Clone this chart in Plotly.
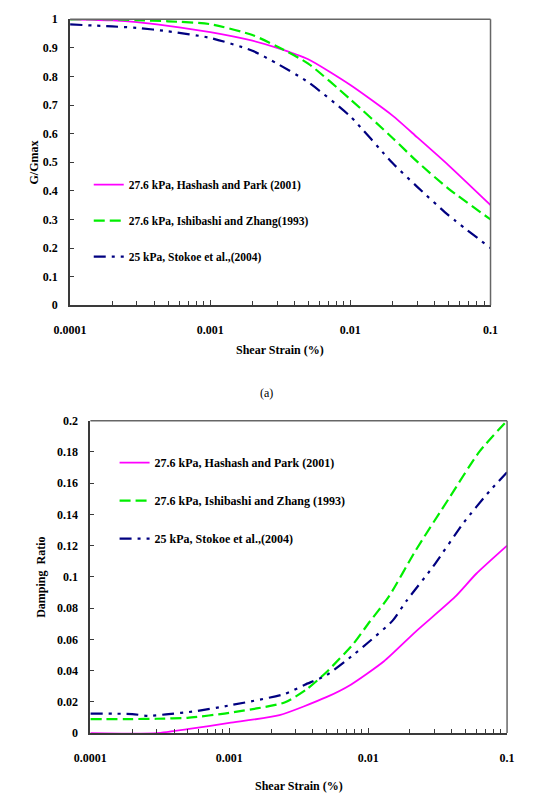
import plotly.graph_objects as go

# ---------------- data ----------------
# (a) G/Gmax vs shear strain (%)
g_strain = [1e-4, 2e-4, 3e-4, 5e-4, 1e-3, 2e-3, 3e-3, 5e-3, 1e-2, 2e-2, 3e-2, 5e-2, 1e-1]
g_hashash = [1.0, 0.996, 0.99, 0.977, 0.955, 0.925, 0.90, 0.86, 0.77, 0.663, 0.587, 0.49, 0.35]
g_ishibashi = [1.0, 1.0, 0.997, 0.993, 0.983, 0.945, 0.905, 0.845, 0.72, 0.585, 0.502, 0.408, 0.30]
g_stokoe = [0.982, 0.975, 0.97, 0.958, 0.935, 0.89, 0.845, 0.78, 0.66, 0.497, 0.414, 0.315, 0.20]

# (b) Damping ratio vs shear strain (%)
d_strain_h = [1e-4, 2e-4, 3e-4, 5e-4, 1e-3, 2.3e-3, 5e-3, 7.5e-3, 1.3e-2, 2.2e-2, 4.2e-2, 6e-2, 1e-1]
d_hashash = [0.0, -0.0003, 0.0, 0.0025, 0.0065, 0.0115, 0.023, 0.031, 0.046, 0.065, 0.087, 0.102, 0.12]
d_strain_i = [1e-4, 2e-4, 3e-4, 5e-4, 1e-3, 2.5e-3, 3.6e-3, 5e-3, 7.8e-3, 1e-2, 1.4e-2, 2.2e-2, 3.8e-2, 6.3e-2, 1e-1]
d_ishibashi = [0.009, 0.009, 0.0092, 0.0098, 0.013, 0.0196, 0.028, 0.039, 0.057, 0.070, 0.087, 0.117, 0.15, 0.18, 0.20]
d_strain_s = [1e-4, 2e-4, 2.6e-4, 3.5e-4, 5.7e-4, 1e-3, 2.5e-3, 3.5e-3, 5e-3, 7.8e-3, 1e-2, 1.5e-2, 1.9e-2, 2.9e-2, 4.9e-2, 7.5e-2, 1e-1]
d_stokoe = [0.0125, 0.0122, 0.011, 0.012, 0.014, 0.0177, 0.025, 0.031, 0.037, 0.05, 0.058, 0.072, 0.085, 0.106, 0.135, 0.155, 0.167]

x_tickvals = [1e-4, 1e-3, 1e-2, 1e-1]
x_ticktext = ["0.0001", "0.001", "0.01", "0.1"]
g_tickvals = [0, 0.1, 0.2, 0.3, 0.4, 0.5, 0.6, 0.7, 0.8, 0.9, 1]
g_ticktext = ["0", "0.1", "0.2", "0.3", "0.4", "0.5", "0.6", "0.7", "0.8", "0.9", "1"]
d_tickvals = [0, 0.02, 0.04, 0.06, 0.08, 0.1, 0.12, 0.14, 0.16, 0.18, 0.2]
d_ticktext = ["0", "0.02", "0.04", "0.06", "0.08", "0.1", "0.12", "0.14", "0.16", "0.18", "0.2"]

names_top = ["27.6 kPa, Hashash and Park (2001)", "27.6 kPa, Ishibashi and Zhang(1993)", "25 kPa, Stokoe et al.,(2004)"]
names_bot = ["27.6 kPa, Hashash and Park (2001)", "27.6 kPa, Ishibashi and Zhang (1993)", "25 kPa, Stokoe et al.,(2004)"]

# ---------------- styles ----------------
W, H = 553, 803
FONT = "Times New Roman, Liberation Serif, serif"
MAG = "#FF00FF"
GRN = "#00EE00"
NAV = "#000080"
AX = "#3a3a3a"
GDASH = "11px,5px"
NDASH = "12px,6px,3px,6px,3px,6px"

minor_vals = [m * 10 ** e for e in (-4, -3, -2) for m in range(2, 10)]

fig = go.Figure()

def add(x, y, name, color, dash, width, xa, ya, leg, grp):
    fig.add_trace(go.Scatter(x=x, y=y, mode="lines", name="<b>" + name + "</b>",
                             line=dict(color=color, dash=dash, width=width, shape="spline", smoothing=0.6),
                             xaxis=xa, yaxis=ya, legend=leg, legendgroup=grp))

add(g_strain, g_hashash, names_top[0], MAG, "solid", 1.8, "x", "y", "legend", "a1")
add(g_strain, g_ishibashi, names_top[1], GRN, GDASH, 2.2, "x", "y", "legend", "a2")
add(g_strain, g_stokoe, names_top[2], NAV, NDASH, 2.2, "x", "y", "legend", "a3")
add(d_strain_h, d_hashash, names_bot[0], MAG, "solid", 1.8, "x2", "y2", "legend2", "b1")
add(d_strain_i, d_ishibashi, names_bot[1], GRN, GDASH, 2.2, "x2", "y2", "legend2", "b2")
add(d_strain_s, d_stokoe, names_bot[2], NAV, NDASH, 2.2, "x2", "y2", "legend2", "b3")

tickfont = dict(family=FONT, size=12, color="black")

def bold(lst):
    return ["<b>" + s + "</b>" for s in lst]

def xaxis(domain, anchor):
    return dict(type="log", range=[-4, -1], domain=domain, anchor=anchor,
                tickvals=x_tickvals, ticktext=bold(x_ticktext), ticks="inside", ticklen=5,
                tickcolor=AX, tickwidth=1.2, showline=True, linecolor=AX, linewidth=2,
                showgrid=False, zeroline=False, tickfont=tickfont, ticklabelstandoff=12,
                minor=dict(tickvals=minor_vals, ticks="inside", ticklen=4, tickcolor=AX,
                           tickwidth=1.2, showgrid=False))

def yaxis(domain, anchor, rng, tv, tt, standoff):
    return dict(range=rng, domain=domain, anchor=anchor, tickvals=tv, ticktext=bold(tt),
                ticks="inside", ticklen=4, tickcolor=AX, tickwidth=1.2, showline=True,
                linecolor=AX, linewidth=2, showgrid=False, zeroline=False,
                tickfont=tickfont, ticklabelstandoff=standoff)

top_x = [55.5 / W, 495 / W]
top_y = [1 - 303.5 / H, 1 - 12.5 / H]
bot_x = [76.7 / W, 512.3 / W]
bot_y = [1 - 739 / H, 1 - 421 / H]

fig.update_layout(
    width=W, height=H,
    margin=dict(l=0, r=0, t=0, b=0),
    paper_bgcolor="white", plot_bgcolor="white",
    font=dict(family=FONT, color="black"),
    showlegend=True,
    xaxis=xaxis(top_x, "y"),
    yaxis=yaxis(top_y, "x", [0, 1], g_tickvals, g_ticktext, 8),
    xaxis2=xaxis(bot_x, "y2"),
    yaxis2=yaxis(bot_y, "x2", [0, 0.2], d_tickvals, d_ticktext, 8),
    legend=dict(x=75 / W, y=1 - 166 / H, xanchor="left", yanchor="top",
                bgcolor="rgba(0,0,0,0)", font=dict(family=FONT, size=11.5, color="black"),
                tracegroupgap=17, itemwidth=30),
    legend2=dict(x=102 / W, y=1 - 449 / H, xanchor="left", yanchor="top",
                 bgcolor="rgba(0,0,0,0)", font=dict(family=FONT, size=12, color="black"),
                 tracegroupgap=19, itemwidth=30),
)

# lighter frame on top/right
for xr, yr in (("x domain", "y domain"), ("x2 domain", "y2 domain")):
    fig.add_shape(type="line", xref=xr, yref=yr, x0=0, x1=1, y0=1, y1=1, line=dict(color="#666", width=1.5))
    fig.add_shape(type="line", xref=xr, yref=yr, x0=1, x1=1, y0=0, y1=1, line=dict(color="#666", width=1.5))

titlefont = dict(family=FONT, size=12, color="black")

def ann(text, x, y, angle=0, font=titlefont):
    fig.add_annotation(text=text, x=x, y=y, xref="paper", yref="paper", showarrow=False,
                       textangle=angle, font=font, xanchor="center", yanchor="middle")

ann("<b>Shear Strain (%)</b>", (top_x[0] + top_x[1]) / 2, 1 - 349 / H)
ann("<b>G/Gmax</b>", 18 / W, (top_y[0] + top_y[1]) / 2, -90)
ann("(a)", 261 / W, 1 - 393 / H)
ann("<b>Shear Strain (%)</b>", (bot_x[0] + bot_x[1]) / 2, 1 - 793 / H)
ann("<b>Damping  Ratio</b>", 25 / W, (bot_y[0] + bot_y[1]) / 2, -90)

fig.write_html("out.html")
